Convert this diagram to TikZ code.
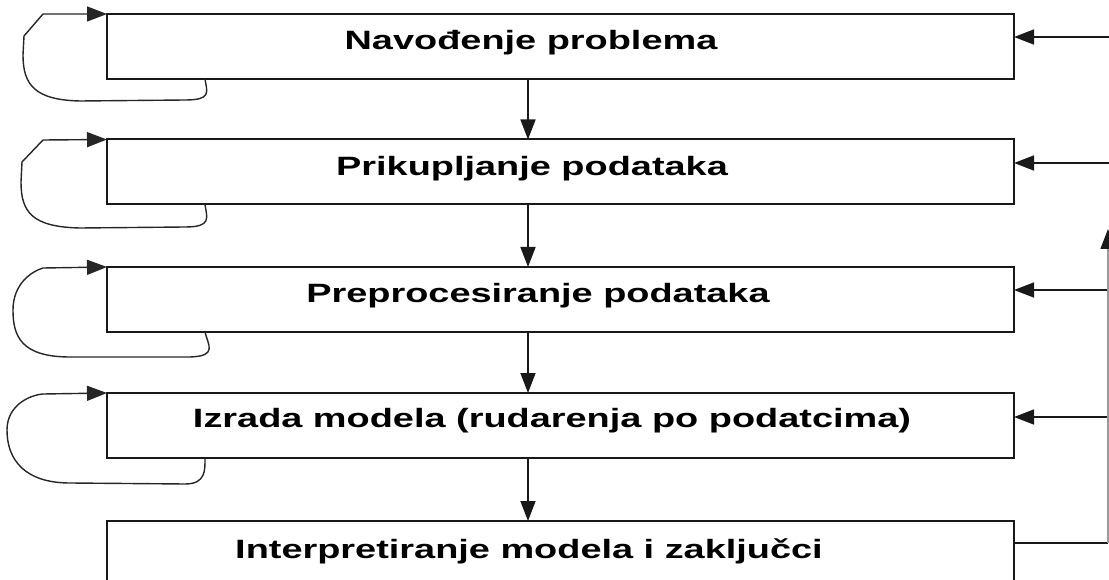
\documentclass[tikz,border=0pt]{standalone}
\usepackage{fontspec}
\setmainfont{Liberation Sans}
\usetikzlibrary{arrows.meta}
\begin{document}
\begin{tikzpicture}[x=1pt,y=-1pt,
  box/.style={draw=black!90, line width=2pt, rectangle, minimum width=907pt, minimum height=65pt, inner sep=0pt, outer sep=0pt},
  lbl/.style={inner sep=0pt, font=\fontsize{26.5}{30}\selectfont\bfseries},
  tip/.style={-{Triangle[length=20pt,width=15pt]}},
  arr/.style={draw=black!90, line width=1.6pt, tip},
  selfloop/.style={draw=black!85, line width=1.4pt, tip},
  feed/.style={draw=black!40, line width=1.4pt}]
\useasboundingbox (0,0) rectangle (1109,580);
\clip (0,0) rectangle (1109,580);
% boxes
\node[box] (b1) at (560.5,46.5) {};
\node[box] (b2) at (560.5,172) {};
\node[box] (b3) at (560.5,299.5) {};
\node[box] (b4) at (560.5,425.5) {};
\node[box] (b5) at (560.5,553.5) {};
% texts
\node[lbl] (t1) at (531,43) {\scalebox{1.43}[1]{Navođenje problema}};
\node[lbl] (t2) at (532,169) {\scalebox{1.43}[1]{Prikupljanje podataka}};
\node[lbl] (t3) at (538,296) {\scalebox{1.43}[1]{Preprocesiranje podataka}};
\node[lbl] (t4) at (552,421) {\scalebox{1.43}[1]{Izrada modela (rudarenja po podatcima)}};
\node[lbl] (t5) at (529,551) {\scalebox{1.43}[1]{Interpretiranje modela i zaključci}};
% down arrows
\coordinate (ax) at (528,0);
\draw[arr] (b1.south -| ax) -- (b2.north -| ax);
\draw[arr] (b2.south -| ax) -- (b3.north -| ax);
\draw[arr] (b3.south -| ax) -- (b4.north -| ax);
\draw[arr] (b4.south -| ax) -- (b5.north -| ax);
% right side feedback
\coordinate (e1) at (1109,37);
\coordinate (e2) at (1109,163);
\coordinate (e3) at (1109,290);
\coordinate (e4) at (1109,417);
\coordinate (v5) at (1108,543);
\coordinate (vt) at (1108,229);
\draw[arr] (e1) -- (e1 -| b1.east);
\draw[arr] (e2) -- (e2 -| b2.east);
\draw[arr] (e3) -- (e3 -| b3.east);
\draw[arr] (e4) -- (e4 -| b4.east);
\draw[draw=black!90, line width=1.6pt] (b5.east |- v5) -- (v5);
\draw[feed, -{Triangle[length=20pt,width=15pt,color=black!90,fill=black!90]}] (v5) -- (vt);
% self loops
\coordinate (lx) at (205,0);
\draw[selfloop] (b1.south -| lx) .. controls (207,92) and (212,100) .. (185,100) -- (80,101)
  .. controls (35,100) and (23,85) .. (23,55) -- (24,36) -- (43,14) -- (b1.north west);
\draw[selfloop] (b2.south -| lx) .. controls (207,218) and (212,227) .. (185,227) -- (80,228)
  .. controls (32,227) and (21,212) .. (21,182) -- (22,162) -- (43,140) -- (b2.north west);
\draw[selfloop] (b3.south -| lx) .. controls (208,345) and (218,356) .. (190,357) -- (70,357)
  .. controls (20,357) and (13,335) .. (13,310) .. controls (13,285) and (30,272) .. (43,268) -- (b3.north west);
\draw[selfloop] (b4.south -| lx) .. controls (205,470) and (206,484) .. (185,484) -- (70,483)
  .. controls (25,483) and (7,460) .. (7,430) .. controls (7,405) and (30,395) .. (43,394) -- (b4.north west);
\end{tikzpicture}
\end{document}
